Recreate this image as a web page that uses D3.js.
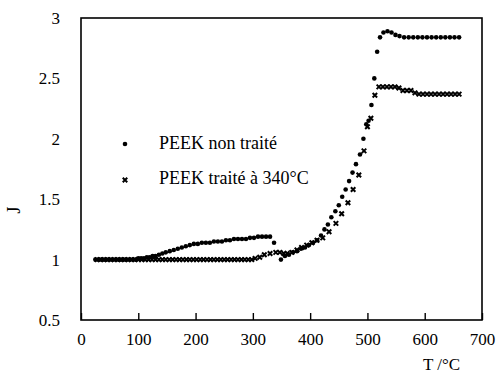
<!DOCTYPE html>
<html><head><meta charset="utf-8">
<script src="https://cdn.jsdelivr.net/npm/d3@7"></script>
<style>
body{margin:0;background:#fff}
svg{display:block}
svg text{font-family:"Liberation Serif","Times New Roman",Times,"DejaVu Serif",serif;fill:#000}
</style>
</head><body>
<script>
// PEEK non traité (circles)
const circleT = [25,30,35,40,45,50,55,60,65,70,75,80,85,90,95,
  100,105,110,115,120,125,130,
  136,142,148,155,162,169,176,183,190,197,
  204,211,218,225,232,239,246,253,260,267,
  274,281,288,295,302,309,316,323,330,337,
  349,356,363,370,377,384,391,398,405,412,
  419,425,431,437,444,450,456,462,468,474,
  480,487,493,498,502,507,512,517,522,528,
  535,542,549,556,564,572,580,588,596,604,
  612,620,628,636,644,652,660];
const circleJ = [1.0,1.0,1.0,1.0,1.0,1.0,1.0,1.0,1.0,1.0,1.0,1.0,1.0,1.0,1.0,
  1.01,1.01,1.01,1.02,1.02,1.03,1.03,
  1.04,1.05,1.06,1.07,1.08,1.09,1.10,1.11,1.12,1.13,
  1.13,1.14,1.14,1.14,1.15,1.15,1.15,1.16,1.16,1.17,
  1.17,1.17,1.17,1.18,1.18,1.19,1.19,1.19,1.19,1.14,
  1.00,1.03,1.04,1.06,1.07,1.09,1.10,1.12,1.14,1.16,
  1.20,1.25,1.29,1.35,1.40,1.45,1.52,1.58,1.65,1.72,
  1.79,1.87,2.00,2.12,2.15,2.28,2.50,2.72,2.84,2.88,
  2.89,2.88,2.86,2.85,2.84,2.84,2.84,2.84,2.84,2.84,
  2.84,2.84,2.84,2.84,2.84,2.84,2.84];
// PEEK traité à 340°C (crosses)
const crossT = [28,34,40,46,52,58,64,70,76,82,
  88,94,100,106,112,118,124,130,136,142,
  148,154,160,166,172,178,184,190,196,202,
  208,214,220,226,232,238,244,250,256,262,
  268,274,280,286,292,298,
  304,312,320,330,340,347,354,360,368,377,
  385,394,403,412,422,433,445,455,466,475,
  485,494,500,506,513,520,527,534,541,548,
  555,562,569,576,583,590,597,604,611,618,
  625,632,639,646,653,660];
const crossJ = [1,1,1,1,1,1,1,1,1,1,
  1,1,1,1,1,1,1,1,1,1,
  1,1,1,1,1,1,1,1,1,1,
  1,1,1,1,1,1,1,1,1,1,
  1,1,1,1,1,1,
  1.01,1.02,1.04,1.05,1.06,1.06,1.05,1.05,1.06,1.08,
  1.10,1.12,1.14,1.16,1.18,1.23,1.30,1.38,1.47,1.58,
  1.70,1.90,2.10,2.17,2.36,2.43,2.43,2.43,2.43,2.43,
  2.42,2.40,2.40,2.40,2.38,2.37,2.37,2.37,2.37,2.37,
  2.37,2.37,2.37,2.37,2.37,2.37];
const xTicks = [0,100,200,300,400,500,600,700];
const yTicks = [0.5,1,1.5,2,2.5,3];
const yTickLabels = ["0.5","1","1.5","2","2.5","3"];
const seriesNames = ["PEEK non traité","PEEK traité à 340°C"];
const xLabel = "T /°C", yLabel = "J";

const W = 498, H = 373;
const svg = d3.select("body").append("svg").attr("width", W).attr("height", H);
const x = d3.scaleLinear().domain([0,700]).range([81,482]);
const y = d3.scaleLinear().domain([0.5,3]).range([320,18]);

// frame
svg.append("rect").attr("x", x(0)).attr("y", y(3)).attr("width", x(700)-x(0)).attr("height", y(0.5)-y(3))
  .attr("fill","none").attr("stroke","#000").attr("stroke-width",1.6);

// bottom axis ticks inside
const xa = svg.append("g").attr("transform", `translate(0,${y(0.5)})`)
  .call(d3.axisBottom(x).tickValues(xTicks).tickSizeInner(-7).tickSizeOuter(0).tickPadding(13));
xa.select(".domain").remove();
xa.selectAll("line").attr("stroke-width",1.4);
xa.selectAll("text").attr("font-family",null).attr("font-size",17);

// left axis labels
const ya = svg.append("g").attr("transform", `translate(${x(0)},0)`)
  .call(d3.axisLeft(y).tickValues(yTicks).tickFormat((d,i)=>yTickLabels[i]).tickSize(0).tickPadding(21));
ya.select(".domain").remove();
ya.selectAll("text").attr("font-family",null).attr("font-size",17);

// axis titles
svg.append("text").attr("transform","translate(20,210) rotate(-90)").attr("text-anchor","middle")
  .attr("font-size",18).text(yLabel);
svg.append("text").attr("x",423).attr("y",370).attr("font-size",17).text(xLabel);

// data
const circles = circleT.map((t,i)=>[t,circleJ[i]]);
const crosses = crossT.map((t,i)=>[t,crossJ[i]]);
const xsym = d3.symbol().type(d3.symbolX).size(15);

svg.append("g").selectAll("path").data(crosses).join("path")
  .attr("d", xsym).attr("transform", d=>`translate(${x(d[0])},${y(d[1])})`)
  .attr("fill","none").attr("stroke","#000").attr("stroke-width",2);
svg.append("g").selectAll("circle").data(circles).join("circle")
  .attr("cx", d=>x(d[0])).attr("cy", d=>y(d[1])).attr("r",2.3).attr("fill","#000");

// legend
svg.append("circle").attr("cx",125).attr("cy",144).attr("r",2.3).attr("fill","#000");
svg.append("path").attr("d", xsym).attr("transform","translate(125,180)")
  .attr("fill","none").attr("stroke","#000").attr("stroke-width",2);
svg.append("text").attr("x",159).attr("y",149).attr("font-size",18).text(seriesNames[0]);
svg.append("text").attr("x",159).attr("y",184).attr("font-size",18).text(seriesNames[1]);
</script>
</body></html>
